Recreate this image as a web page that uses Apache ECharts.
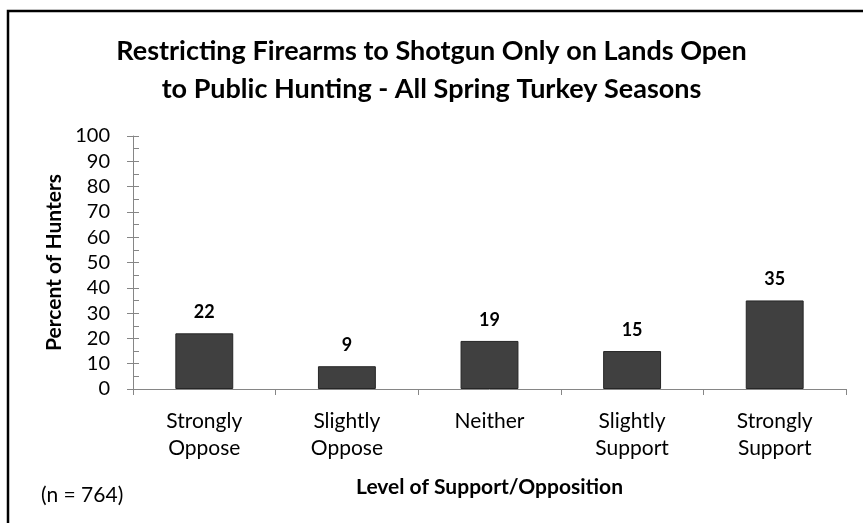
<!DOCTYPE html>
<html>
<head>
<meta charset="utf-8">
<script src="https://cdn.jsdelivr.net/npm/echarts@6/dist/echarts.min.js"></script>
<style>
html,body{margin:0;padding:0;background:#fff;}
#chart{width:863px;height:523px;}
</style>
</head>
<body>
<div id="chart"></div>
<script>
const titleLines = ["Restricting Firearms to Shotgun Only on Lands Open", "to Public Hunting - All Spring Turkey Seasons"];
const categories = ["Strongly\nOppose", "Slightly\nOppose", "Neither", "Slightly\nSupport", "Strongly\nSupport"];
const values = [22, 9, 19, 15, 35];
const yTicks = [0, 100, 10];
const yName = "Percent of Hunters";
const xName = "Level of Support/Opposition";
const note = "(n = 764)";

const FONT = "Lato, 'Open Sans', sans-serif";
const chart = echarts.init(document.getElementById('chart'), null, {renderer: 'canvas'});
const axisColor = '#868686';
chart.setOption({
  animation: false,
  title: {
    text: titleLines.join('\n'),
    left: 'center', top: 27,
    textStyle: {fontFamily: FONT, fontWeight: 'bold', fontSize: 27, color: '#000', lineHeight: 38}
  },
  grid: {left: 133, right: 17, top: 136, bottom: 134},
  xAxis: {
    type: 'category', data: categories,
    axisLine: {lineStyle: {color: axisColor, width: 1}},
    axisTick: {show: true, length: 6, lineStyle: {color: axisColor}},
    axisLabel: {fontFamily: FONT, fontSize: 21, color: '#000', margin: 19, lineHeight: 27},
    name: xName, nameLocation: 'middle', nameGap: 88,
    nameTextStyle: {fontFamily: FONT, fontWeight: 'bold', fontSize: 21, color: '#000'}
  },
  yAxis: [{
    type: 'value', min: yTicks[0], max: yTicks[1], interval: yTicks[2],
    axisLine: {show: true, lineStyle: {color: axisColor, width: 1}},
    axisTick: {show: true, inside: false, length: 6, lineStyle: {color: axisColor}},
    splitLine: {show: false},
    axisLabel: {fontFamily: FONT, fontSize: 20, color: '#000', margin: 23},
    name: yName, nameLocation: 'middle', nameGap: 67, nameRotate: 90,
    nameTextStyle: {fontFamily: FONT, fontWeight: 'bold', fontSize: 21, color: '#000'}
  }, {
    type: 'value', min: yTicks[0], max: yTicks[1], interval: yTicks[2], position: 'left',
    axisLine: {show: false},
    axisTick: {show: true, inside: true, length: 6, lineStyle: {color: axisColor}},
    minorTick: {show: true, splitNumber: 2, length: 6, lineStyle: {color: axisColor}},
    splitLine: {show: false}, axisLabel: {show: false}
  }],
  series: [{
    type: 'bar', data: values, barWidth: '40.6%',
    itemStyle: {color: '#404040', borderColor: '#262626', borderWidth: 1},
    label: {show: true, position: 'top', distance: 12, fontFamily: FONT, fontWeight: 'bold', fontSize: 18, color: '#000'}
  }],
  graphic: [
    {type: 'rect', shape: {x: 8, y: 11, width: 900, height: 600}, style: {fill: 'none', stroke: '#000', lineWidth: 2.5}, silent: true},
    {type: 'text', left: 41, top: 485, style: {text: note, fontFamily: FONT, fontSize: 21, fill: '#000'}}
  ]
});
</script>
</body>
</html>
